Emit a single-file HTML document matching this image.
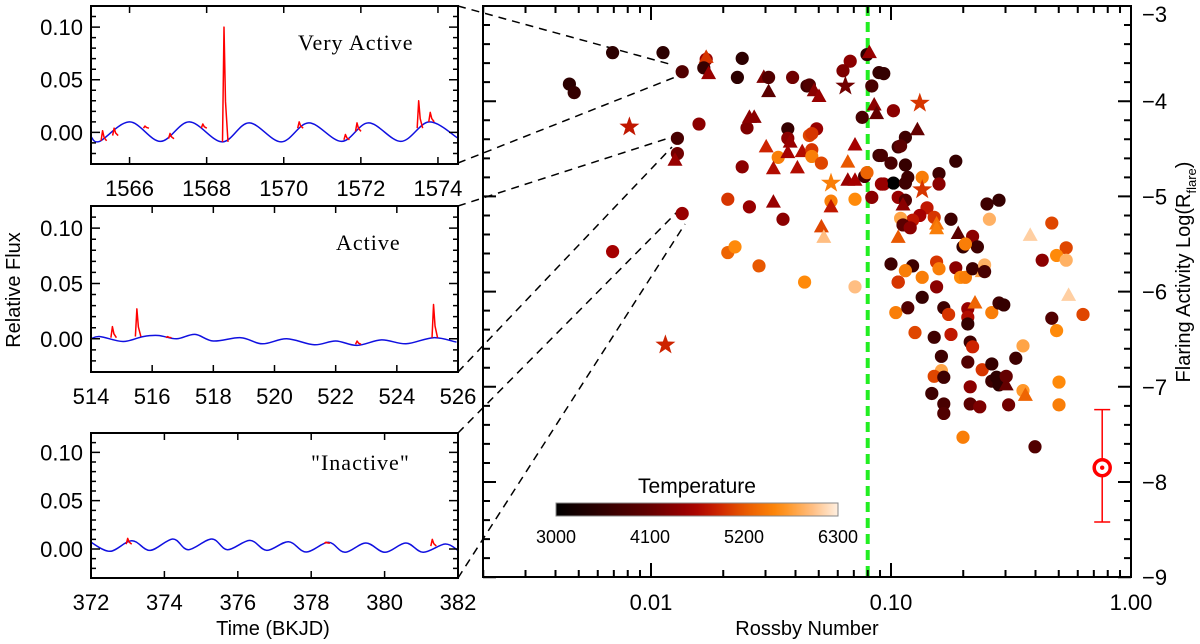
<!DOCTYPE html>
<html><head><meta charset="utf-8"><title>Flaring activity vs Rossby number</title>
<style>
html,body{margin:0;padding:0;background:#fff;}
body{width:1200px;height:644px;overflow:hidden;position:relative;}
svg{position:absolute;left:0;top:0;font-family:"Liberation Sans",sans-serif;}
.tl{font-size:22px;fill:#000;}
.ser{font-family:"Liberation Serif",serif;font-size:22px;fill:#000;letter-spacing:1px;}
</style></head>
<body>
<svg id="fig" width="1200" height="644" viewBox="0 0 1200 644">
  <g id="conn"></g>
  <g id="p1"></g>
  <g id="p2"></g>
  <g id="p3"></g>
  <g id="main"></g>
  <text x="298" y="50" class="ser">Very Active</text>
  <text x="336" y="250" class="ser">Active</text>
  <text x="311" y="470" class="ser">"Inactive"</text>
  <text x="273" y="635" style="font-size:20px" text-anchor="middle">Time (BKJD)</text>
  <text transform="translate(20,290) rotate(-90)" style="font-size:20px" text-anchor="middle">Relative Flux</text>
  <text x="807" y="635" style="font-size:20px" text-anchor="middle">Rossby Number</text>
  <text transform="translate(1190,272) rotate(-90)" style="font-size:20px" text-anchor="middle">Flaring Activity  Log(R<tspan dy="6" style="font-size:13px">flare</tspan><tspan dy="-6">)</tspan></text>
  <text x="697" y="493" style="font-size:21px" text-anchor="middle">Temperature</text>
</svg>
<script>
// ---------- scatter data ----------
const logRossby = [-2.16,-1.95,-2.34,-2.32,-1.87,-1.77,-1.77,-1.78,-1.76,-1.62,
-1.64,-1.53,-1.51,-1.51,-1.41,-1.35,-2.09,-1.80,-1.89,-1.89,
-1.90,-1.62,-1.60,-1.59,-1.57,-1.43,-1.43,-1.42,-1.52,-1.47,
-1.43,-1.37,-1.49,-1.39,-1.34,-1.68,-1.59,-1.49,-1.45,-1.87,
-2.16,-1.68,-1.65,-1.55,-1.36,-1.94,-1.17,-1.20,-1.10,-1.09,
-1.19,-1.05,-1.03,-1.08,-1.07,-1.06,-1.12,-0.99,-1.34,-1.32,
-1.30,-1.31,-1.33,-1.33,-1.33,-1.29,-1.15,-1.18,-1.05,-1.00,
-0.97,-1.25,-1.18,-1.15,-1.11,-1.10,-1.03,-0.99,-1.08,-0.97,
-1.25,-1.25,-1.15,-1.29,-1.28,-1.15,-1.00,-0.97,-0.98,-0.89,
-0.94,-0.96,-1.04,-0.94,-0.73,-0.94,-0.93,-1.04,-0.87,-0.87,
-0.80,-0.80,-0.94,-0.95,-0.85,-0.88,-0.91,-0.96,-0.95,-0.92,
-0.82,-0.81,-0.81,-0.75,-0.97,-0.72,-0.66,-0.64,-0.70,-0.69,
-0.60,-0.55,-0.59,-0.42,-0.33,-0.27,-0.31,-0.27,-0.37,-0.91,
-0.94,-0.97,-0.81,-0.80,-0.73,-0.71,-0.69,-0.66,-0.61,-0.62,
-0.61,-0.87,-0.81,-0.87,-0.26,-0.93,-0.78,-0.76,-0.68,-0.68,
-0.68,-0.65,-0.58,-0.55,-0.53,-0.33,-0.20,-0.31,-0.90,-0.82,
-0.75,-0.67,-0.66,-0.45,-0.48,-0.79,-0.68,-0.62,-0.58,-0.79,
-0.82,-0.78,-0.58,-0.56,-0.55,-0.52,-0.52,-0.45,-0.44,-0.30,
-0.67,-0.83,-0.78,-0.78,-0.67,-0.63,-0.51,-0.30,-0.70,-0.40,
-0.88];
const logRflare = [-3.49,-3.49,-3.82,-3.91,-3.69,-3.56,-3.54,-3.65,-3.71,-3.55,
-3.75,-3.75,-3.75,-3.90,-3.75,-3.84,-4.27,-4.24,-4.39,-4.55,
-4.62,-4.69,-4.28,-4.17,-4.17,-4.29,-4.39,-4.43,-4.48,-4.59,
-4.54,-4.53,-4.71,-4.70,-4.36,-5.03,-5.11,-5.06,-5.24,-5.18,
-5.58,-5.59,-5.53,-5.73,-5.90,-6.56,-3.58,-3.68,-3.51,-3.49,
-3.84,-3.70,-3.71,-3.84,-4.04,-4.13,-4.17,-4.10,-3.83,-3.89,
-3.95,-4.29,-4.34,-4.51,-4.58,-4.65,-4.46,-4.64,-4.57,-4.65,
-4.48,-4.86,-4.83,-4.83,-4.79,-4.75,-4.87,-4.86,-5.01,-5.01,
-5.05,-5.11,-5.03,-5.32,-5.43,-5.95,-5.71,-5.90,-6.22,-4.30,
-4.38,-4.47,-4.57,-4.67,-4.63,-4.86,-4.80,-4.87,-4.80,-4.93,
-4.76,-4.87,-5.04,-5.09,-5.12,-5.20,-5.25,-5.23,-5.30,-5.33,
-5.22,-5.29,-5.34,-5.24,-5.43,-5.39,-5.42,-5.53,-5.53,-5.50,
-5.08,-5.04,-5.24,-5.41,-5.28,-5.54,-5.62,-5.67,-5.67,-5.73,
-5.78,-5.90,-5.69,-5.76,-5.75,-5.85,-5.85,-5.76,-5.72,-5.79,
-5.79,-5.85,-5.95,-6.06,-6.04,-6.17,-6.17,-6.24,-6.18,-6.27,
-6.34,-6.12,-6.22,-6.12,-6.14,-6.28,-6.24,-6.41,-6.43,-6.48,
-6.45,-6.53,-6.58,-6.57,-6.70,-6.68,-6.74,-6.82,-6.76,-6.83,
-6.89,-6.90,-6.94,-6.90,-6.98,-6.89,-6.98,-7.04,-7.09,-6.95,
-7.00,-7.07,-7.18,-7.28,-7.18,-7.21,-7.19,-7.19,-7.53,-7.63,
-4.02];
const temperature = [3500,3500,3500,3600,3900,4500,5000,3600,4500,3500,
3500,4300,3900,4000,4200,3700,4800,4400,3800,4200,
4500,4400,4300,4400,4400,3600,4400,4500,4900,5500,
4600,4700,4700,4700,5100,5000,4500,4500,4400,4500,
4600,5300,5600,5200,5600,4900,4400,4300,3500,4500,
4200,3600,3600,3800,4400,4100,3800,4400,3900,4400,
4500,4500,5000,5000,5500,5100,4600,5200,3700,3800,
3700,5500,4500,4600,3800,5300,4500,3000,4400,4500,
5500,4800,5600,5100,6000,6000,3700,4700,5500,4100,
3700,4000,3800,3600,3600,3700,3700,4500,5500,5000,
3700,4400,3900,4400,4800,4600,4800,5800,4000,4400,
5000,5400,5500,3700,5200,4000,4400,3700,3600,5500,
3700,3600,5900,6100,5100,5100,5600,5900,4400,3700,
5500,5000,5000,5500,4400,5600,5500,3700,5900,5800,
3800,5500,4400,3600,6100,3900,3700,5000,4500,4700,
3600,5300,5500,3700,3600,3900,5100,5600,5100,3700,
4800,3700,4900,5800,3700,3700,3900,5000,3600,5800,
5100,3700,3700,3500,3500,4100,4100,5700,5300,5600,
4400,3700,3800,3900,4000,4300,4200,5500,5500,3900,
5000];
const shapes = ["c","c","c","c","c","c","t","c","t","c",
"c","t","c","t","c","c","s","c","c","c",
"t","c","c","t","t","c","c","t","t","c",
"t","t","t","t","c","c","c","t","c","c",
"c","c","c","c","c","s","c","c","c","t",
"s","c","c","c","t","t","c","c","c","t",
"t","c","c","c","c","c","t","t","c","c",
"c","s","t","t","c","c","c","c","c","c",
"c","t","c","t","t","c","c","c","c","t",
"c","c","c","c","c","c","c","c","c","s",
"c","c","c","t","c","c","c","c","c","c",
"c","t","t","c","t","t","c","c","c","c",
"c","c","c","t","c","c","c","c","c","c",
"c","c","c","c","c","c","c","c","c","t",
"c","c","c","c","t","c","c","c","c","c",
"c","t","c","c","c","c","c","c","c","c",
"c","c","c","c","c","c","c","c","c","c",
"c","c","c","c","c","c","t","c","t","c",
"c","c","c","c","c","c","c","c","c","c",
"s"];
const sunLogRo = [-0.12], sunLogR = [-7.85], sunErrHi = [-7.24], sunErrLo = [-8.42];
const criticalLogRo = [-1.097];
const xTickLabels = ["0.01","0.10","1.00"], xTickLogs = [-2,-1,0];
const yTickValues = [-3,-4,-5,-6,-7,-8,-9];
const cbarTicks = [3000,4100,5200,6300];

// ---------- light-curve data ----------
const lc1Time = [1565.0,1565.22,1566.0,1566.8,1567.55,1568.4,1569.1,1569.93,1570.65,1571.5,1572.2,1573.04,1573.77,1574.5];
const lc1Flux = [-0.004,-0.0085,0.010,-0.0085,0.010,-0.009,0.009,-0.009,0.009,-0.0085,0.009,-0.0085,0.010,-0.005];
const fl1Time = [1565.3,1565.6,1566.4,1567.05,1567.9,1568.45,1570.4,1571.6,1571.9,1573.5,1573.8];
const fl1Peak = [0.0016,0.004,0.006,-0.001,0.008,0.100,0.010,-0.002,0.009,0.030,0.019];
const fl1Base = [-0.008,-0.003,0.004,-0.006,0.004,-0.009,0.004,-0.007,0.001,0.004,0.010];
const lc2Time = [514.0,514.3,515.05,515.7,516.2,516.8,517.4,518.0,518.9,519.6,520.4,521.3,522.0,522.7,523.5,524.3,525.2,525.95];
const lc2Flux = [0.000,0.002,-0.0024,0.002,0.003,0.000,0.004,-0.002,0.001,-0.0045,0.000,-0.0054,-0.002,-0.006,-0.001,-0.0045,0.001,-0.003];
const fl2Time = [514.7,515.5,516.5,522.7,525.2];
const fl2Peak = [0.011,0.027,0.002,-0.002,0.031];
const fl2Base = [0.001,0.002,0.001,-0.005,0.001];
const lc3Time = [372.0,372.52,373.11,373.61,374.23,374.65,375.29,375.72,376.33,376.79,377.38,377.86,378.47,378.92,379.49,380.01,380.58,381.05,381.65,382.0];
const lc3Flux = [0.0069,-0.0024,0.0086,-0.0014,0.0103,-0.0007,0.0103,-0.0007,0.0089,-0.0014,0.0076,-0.0031,0.0069,-0.0034,0.0062,-0.0034,0.0062,-0.0034,0.0052,-0.0014];
const fl3Time = [373.0,378.4,381.3];
const fl3Peak = [0.011,0.007,0.010];
const fl3Base = [0.005,0.006,0.003];

const NS = "http://www.w3.org/2000/svg";
function mk(tag, attrs, parent){const e=document.createElementNS(NS,tag);for(const k in attrs)e.setAttribute(k,attrs[k]);parent.appendChild(e);return e;}

// ---------- colour map ----------
const cmStops=[[3000,[0,0,0]],[3550,[48,0,0]],[4100,[100,0,0]],[4600,[165,0,0]],[4900,[205,35,0]],[5200,[232,88,0]],[5600,[255,138,10]],[6000,[255,190,130]],[6300,[255,240,225]]];
function tcolor(t){
  if(t<=cmStops[0][0])return "rgb(0,0,0)";
  for(let i=1;i<cmStops.length;i++){if(t<=cmStops[i][0]){const a=cmStops[i-1],b=cmStops[i],f=(t-a[0])/(b[0]-a[0]);
    return "rgb("+a[1].map((v,j)=>Math.round(v+(b[1][j]-v)*f)).join(",")+")";}}
  return "rgb(255,240,225)";
}

// ---------- main axis functions ----------
const MX0=483,MX1=1131,MY0=6,MY1=577;
const X=lr=>MX0+(lr+2.7)*240;
const Y=l=>MY0+(-3-l)*95.2;
const main=document.getElementById("main");

// connectors
const conn=document.getElementById("conn");
[[458,6,673,65],[458,163,678,76],[458,206,672,137],[458,372,672,147],[458,433,677,212],[458,578,685,224]].forEach(c=>{
  const l=mk("line",{x1:c[0],y1:c[1],x2:c[2],y2:c[3],stroke:"#000","stroke-width":1.5,"stroke-dasharray":"8,6"},conn);
  
  
});

// critical Rossby line
const gl=mk("line",{x1:X(criticalLogRo[0]),x2:X(criticalLogRo[0]),y1:MY0,y2:MY1,stroke:"#22ee22","stroke-width":4,"stroke-dasharray":"10,6"},main);



// points
const ptsG=mk("g",{},main);


for(let i=0;i<logRossby.length;i++){
  const cx=X(logRossby[i]),cy=Y(logRflare[i]),col=tcolor(temperature[i]);let e;
  if(shapes[i]==="c"){e=mk("circle",{cx:cx,cy:cy,r:6.6,fill:col},ptsG);}
  else if(shapes[i]==="t"){e=mk("polygon",{points:`${cx},${cy-8} ${cx-7.5},${cy+5.5} ${cx+7.5},${cy+5.5}`,fill:col},ptsG);}
  else{let p=[];for(let k=0;k<10;k++){const r=k%2?4.2:10.5,a=-Math.PI/2+k*Math.PI/5;p.push((cx+r*Math.cos(a)).toFixed(1)+","+(cy+r*Math.sin(a)).toFixed(1));}
    e=mk("polygon",{points:p.join(" "),fill:col},ptsG);}
  
  
}

// sun
const sx=X(sunLogRo[0]);
const eb=mk("path",{d:`M${sx},${Y(sunErrHi[0])}V${Y(sunErrLo[0])}M${sx-8},${Y(sunErrHi[0])}h16M${sx-8},${Y(sunErrLo[0])}h16`,stroke:"#f00","stroke-width":1.5,fill:"none"},main);


const sc=mk("circle",{cx:sx,cy:Y(sunLogR[0]),r:8,fill:"#fff",stroke:"#f00","stroke-width":3.5},main);


const sd=mk("circle",{cx:sx,cy:Y(sunLogR[0]),r:2.2,fill:"#f00"},main);



// axes frame
const fr=mk("rect",{x:MX0,y:MY0,width:MX1-MX0,height:MY1-MY0,fill:"none",stroke:"#000","stroke-width":2},main);


let tk="";
for(let d=-3;d<=0;d++){for(let m=1;m<=9;m++){const lr=d+Math.log10(m);if(lr<-2.7||lr>0.001)continue;const x=X(lr),len=m===1?14:7;tk+=`M${x},${MY1}v${-len}M${x},${MY0}v${len}`;}}
for(let v=-3;v>=-9.001;v-=0.2){const y=Y(v),maj=Math.abs(v-Math.round(v))<0.01,len=maj?13:7;tk+=`M${MX1},${y}h${-len}M${MX0},${y}h${len}`;}
const tp=mk("path",{d:tk,stroke:"#000","stroke-width":2,fill:"none"},main);


xTickLabels.forEach((s,i)=>{const t=mk("text",{x:X(xTickLogs[i]),y:610,"text-anchor":"middle",class:"tl"},main);t.textContent=s;
  
  });
yTickValues.forEach(v=>{const t=mk("text",{x:1142,y:Math.max(Y(v)+8,22),class:"tl"},main);t.textContent="\u2212"+Math.abs(v);
  
  });

// colorbar
const defs=mk("defs",{},main);
const lg=mk("linearGradient",{id:"cbg",x1:0,x2:1,y1:0,y2:0},defs);
for(let t=3000;t<=6300;t+=150){mk("stop",{offset:((t-3000)/3300).toFixed(3),"stop-color":tcolor(t)},lg);}
const cb=mk("rect",{x:556,y:503,width:282,height:13,fill:"url(#cbg)",stroke:"#888","stroke-width":1},main);


cbarTicks.forEach(t=>{const x=556+(t-3000)/3300*282;const tx=mk("text",{x:x,y:543,"text-anchor":"middle",style:"font-size:18px"},main);tx.textContent=t;
  
  });

// ---------- light-curve panels ----------
function smooth(pts){let d=`M${pts[0][0]},${pts[0][1]}`;for(let i=0;i<pts.length-1;i++){const p0=pts[Math.max(i-1,0)],p1=pts[i],p2=pts[i+1],p3=pts[Math.min(i+2,pts.length-1)];
  const c1=[p1[0]+(p2[0]-p0[0])/6,p1[1]+(p2[1]-p0[1])/6],c2=[p2[0]-(p3[0]-p1[0])/6,p2[1]-(p3[1]-p1[1])/6];
  d+=`C${c1[0].toFixed(1)},${c1[1].toFixed(1)} ${c2[0].toFixed(1)},${c2[1].toFixed(1)} ${p2[0].toFixed(1)},${p2[1].toFixed(1)}`;}return d;}
function panel(id,top,bot,t0,t1,ticks,lt,lf,ft,fp,fb){
  const g=document.getElementById(id),L=91,R=458;
  const px=t=>L+(t-t0)/(t1-t0)*(R-L), py=f=>top+(0.12-f)/0.15*(bot-top);
  const c=mk("path",{d:smooth(lt.map((t,i)=>[px(t),py(lf[i])])),stroke:"#1010e0","stroke-width":1.5,fill:"none"},g);
  
  
  let fd="";ft.forEach((t,i)=>{const x=px(t);fd+=`M${x-1.5},${py(fb[i])}L${x},${py(fp[i])}L${x+1.5},${py(fb[i]+(fp[i]-fb[i])*0.35)}L${x+4},${py(fb[i])}`;});
  const fl=mk("path",{d:fd,stroke:"#f00","stroke-width":1.5,fill:"none","stroke-linejoin":"round"},g);
  
  
  const r=mk("rect",{x:L,y:top,width:R-L,height:bot-top,fill:"none",stroke:"#000","stroke-width":2},g);
  
  
  let d="";for(let f=-0.03;f<=0.1201;f+=0.01){const y=py(f),maj=Math.abs(f*20-Math.round(f*20))<0.01;const len=maj?9:5;d+=`M${L},${y}h${len}M${R},${y}h${-len}`;}
  ticks.forEach(t=>{const x=px(t);d+=`M${x},${bot}v-7M${x},${top}v7`;});
  const tp=mk("path",{d:d,stroke:"#000","stroke-width":1.5,fill:"none"},g);
  
  
  ["0.10","0.05","0.00"].forEach(s=>{const t=mk("text",{x:83,y:py(parseFloat(s))+8,"text-anchor":"end",class:"tl"},g);t.textContent=s;
    
    });
  ticks.forEach(v=>{const t=mk("text",{x:px(v),y:bot+32,"text-anchor":"middle",class:"tl"},g);t.textContent=v;
    
    });
}
panel("p1",6,164,1565.0,1574.52,[1566,1568,1570,1572,1574],lc1Time,lc1Flux,fl1Time,fl1Peak,fl1Base);
panel("p2",206,372,514,526,[514,516,518,520,522,524,526],lc2Time,lc2Flux,fl2Time,fl2Peak,fl2Base);
panel("p3",433,578,372,382,[372,374,376,378,380,382],lc3Time,lc3Flux,fl3Time,fl3Peak,fl3Base);
</script>
</body></html>
